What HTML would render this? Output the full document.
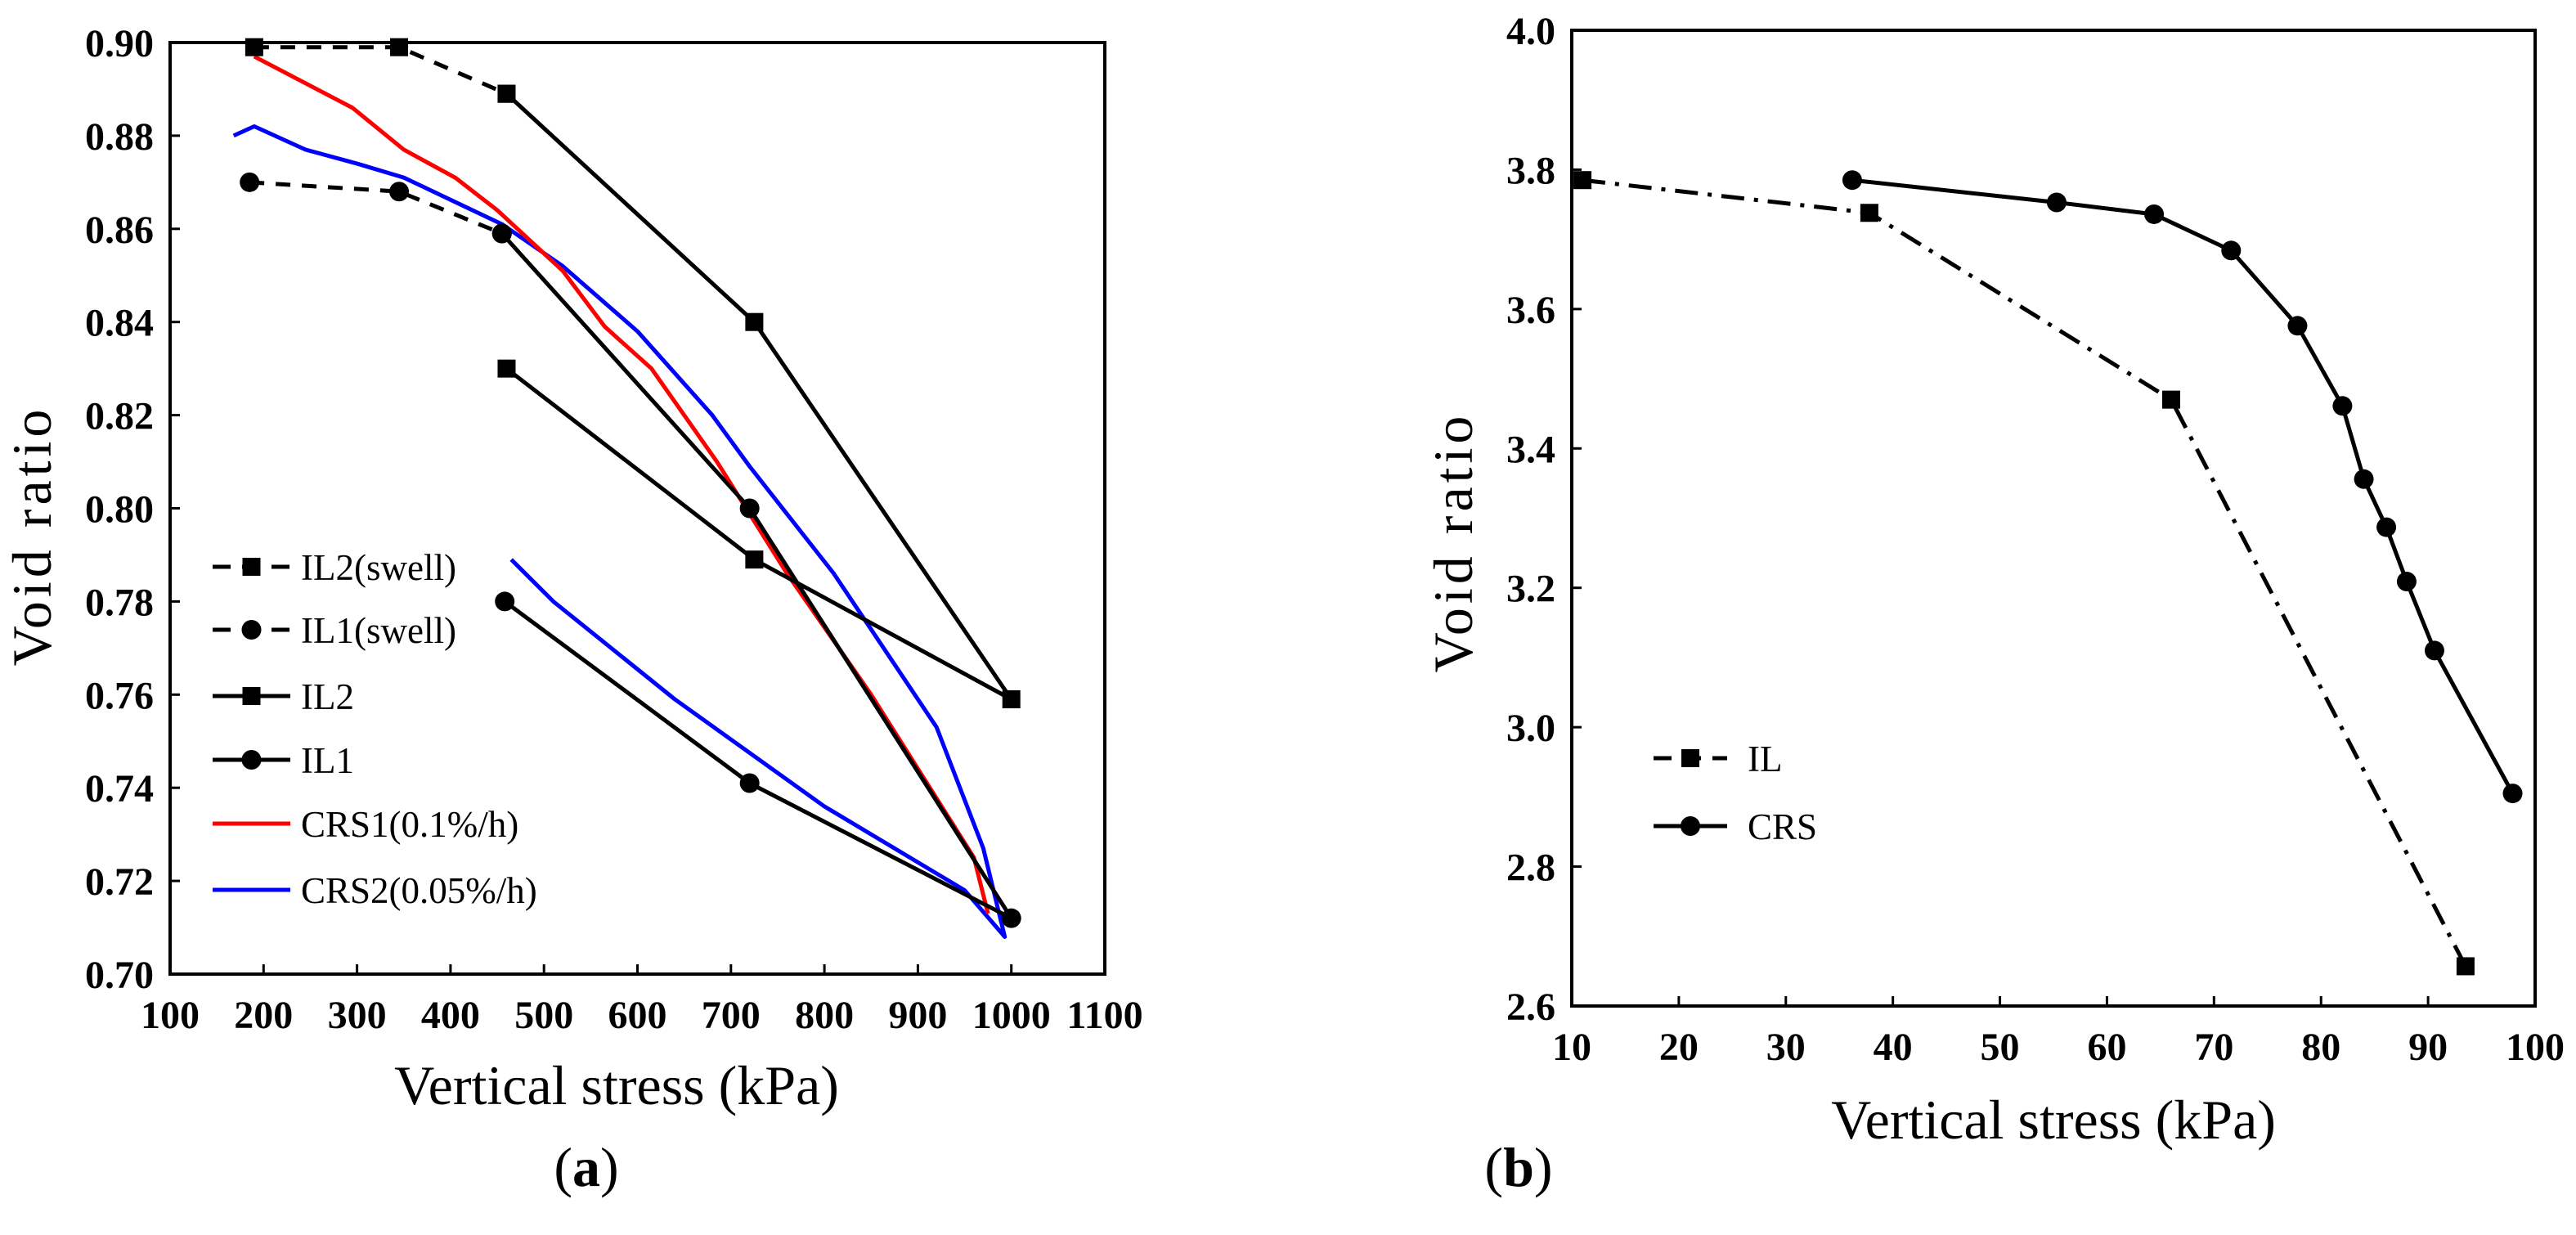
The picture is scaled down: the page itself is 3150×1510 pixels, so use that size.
<!DOCTYPE html>
<html><head><meta charset="utf-8"><style>
html,body{margin:0;padding:0;background:#fff;}
svg{display:block;font-family:"Liberation Serif",serif;}
.tk{font-size:48px;font-weight:bold;}
.ttl{font-size:68px;}
.yttl{font-size:68px;letter-spacing:5px;}
.lg{font-size:45px;}
</style></head><body>
<svg id="fig" width="3150" height="1510" viewBox="0 0 3150 1510"></svg>
<script>
// Panel (a) data
const aXTicks=[100,200,300,400,500,600,700,800,900,1000,1100];
const aYTicks=[0.70,0.72,0.74,0.76,0.78,0.80,0.82,0.84,0.86,0.88,0.90];
const il2SwellX=[190,345,460];
const il2SwellY=[0.899,0.899,0.889];
const il1SwellX=[185,345,455];
const il1SwellY=[0.870,0.868,0.859];
const il2X=[460,725,1000,725,460];
const il2Y=[0.889,0.840,0.759,0.789,0.830];
const il1X=[455,720,1000,720,458];
const il1Y=[0.859,0.800,0.712,0.741,0.780];
const crs1X=[190,295,350,405,450,520,565,615,685,760,850,960,975];
const crs1Y=[0.897,0.886,0.877,0.871,0.864,0.851,0.839,0.830,0.810,0.786,0.760,0.725,0.713];
const crs2X=[168,190,245,300,350,455,520,600,680,720,810,920,970,993,950,800,640,510,465];
const crs2Y=[0.880,0.882,0.877,0.874,0.871,0.861,0.852,0.838,0.820,0.809,0.786,0.753,0.727,0.708,0.718,0.736,0.759,0.780,0.789];
// Panel (b) data
const bXTicks=[10,20,30,40,50,60,70,80,90,100];
const bYTicks=[2.6,2.8,3.0,3.2,3.4,3.6,3.8,4.0];
const ilX=[11,37.8,66,93.5];
const ilY=[3.785,3.738,3.47,2.657];
const crsX=[36.2,55.3,64.4,71.6,77.8,82,84,86.1,88,90.6,97.9];
const crsY=[3.785,3.753,3.736,3.684,3.576,3.461,3.356,3.287,3.209,3.110,2.905];

const svg=document.getElementById('fig');
const NS='http://www.w3.org/2000/svg';
function mk(tag,attrs,parent){const e=document.createElementNS(NS,tag);for(const k in attrs)e.setAttribute(k,attrs[k]);(parent||svg).appendChild(e);return e;}
function lin(d0,d1,r0,r1){return v=>r0+(v-d0)/(d1-d0)*(r1-r0);}

function panel(o){
  const g=mk('g',{});
  
  
  const sx=lin(o.xd[0],o.xd[1],o.L,o.R), sy=lin(o.yd[0],o.yd[1],o.B,o.T);
  const fr=mk('rect',{x:o.L,y:o.T,width:o.R-o.L,height:o.B-o.T,fill:'none',stroke:'#000','stroke-width':4},g);
  
  
  o.xt.forEach(v=>{
    const x=sx(v);
    mk('line',{x1:x,x2:x,y1:o.B,y2:o.B-12,stroke:'#000','stroke-width':3},g);
    const t=mk('text',{x:x,y:o.B+66,'text-anchor':'middle',class:'tk'},g);
    t.textContent=o.xf(v);
    
    
  });
  o.yt.forEach(v=>{
    const y=sy(v);
    mk('line',{x1:o.L,x2:o.L+12,y1:y,y2:y,stroke:'#000','stroke-width':3},g);
    const t=mk('text',{x:o.L-20,y:y+17,'text-anchor':'end',class:'tk'},g);
    t.textContent=o.yf(v);
    
    
  });
  const xt=mk('text',{x:o.xtx,y:o.xty,'text-anchor':'middle',class:'ttl'},g);
  xt.textContent='Vertical stress (kPa)';
  
  
  const yt=mk('text',{x:0,y:0,'text-anchor':'middle',class:'yttl',transform:`translate(${o.ytx},${o.yty}) rotate(-90)`},g);
  yt.textContent='Void ratio';
  
  
  return {g,sx,sy};
}
function marker(g,type,x,y){
  let m;
  if(type==='sq') m=mk('rect',{x:x-11,y:y-11,width:22,height:22,fill:'#000'},g);
  else if(type==='ci') m=mk('circle',{cx:x,cy:y,r:12,fill:'#000'},g);
  if(m){}
}
function series(p,xs,ys,color,dash,mt,name){
  const pts=xs.map((v,i)=>p.sx(v)+','+p.sy(ys[i])).join(' ');
  const pl=mk('polyline',{points:pts,fill:'none',stroke:color,'stroke-width':5,'stroke-dasharray':dash||'none','stroke-linejoin':'round'},p.g);
  
  
  if(mt) xs.forEach((v,i)=>marker(p.g,mt,p.sx(v),p.sy(ys[i])));
}
function legend(g,x0,x1,tx,y,color,dash,mt,label){
  const l=mk('line',{x1:x0,x2:x1,y1:y,y2:y,stroke:color,'stroke-width':5,'stroke-dasharray':dash||'none'},g);
  
  
  if(mt) marker(g,mt,(x0+x1)/2,y);
  const t=mk('text',{x:tx,y:y+16,class:'lg'},g);
  t.textContent=label;
  
  
}

const pa=panel({name:'chart-a',L:208,R:1351,T:52,B:1191,xd:[100,1100],yd:[0.70,0.90],xt:aXTicks,yt:aYTicks,
  xf:v=>String(v),yf:v=>v.toFixed(2),xtx:754,xty:1350,ytx:62,yty:655});
series(pa,crs2X,crs2Y,'#0000ff',null,null,'crs2-line');
series(pa,crs1X,crs1Y,'#ff0000',null,null,'crs1-line');
series(pa,il2SwellX,il2SwellY,'#000','18,14','sq','il2-swell-line');
series(pa,il1SwellX,il1SwellY,'#000','18,14','ci','il1-swell-line');
series(pa,il2X,il2Y,'#000',null,'sq','il2-line');
series(pa,il1X,il1Y,'#000',null,'ci','il1-line');
legend(pa.g,260,355,368,693,'#000','22,14','sq','IL2(swell)');
legend(pa.g,260,355,368,770,'#000','22,14','ci','IL1(swell)');
legend(pa.g,260,355,368,851,'#000',null,'sq','IL2');
legend(pa.g,260,355,368,929,'#000',null,'ci','IL1');
legend(pa.g,260,355,368,1007,'#ff0000',null,null,'CRS1(0.1%/h)');
legend(pa.g,260,355,368,1088,'#0000ff',null,null,'CRS2(0.05%/h)');

const pb=panel({name:'chart-b',L:1922,R:3100,T:37,B:1230,xd:[10,100],yd:[2.6,4.0],xt:bXTicks,yt:bYTicks,
  xf:v=>String(v),yf:v=>v.toFixed(1),xtx:2511,xty:1392,ytx:1800,yty:663});
series(pb,ilX,ilY,'#000','28,12,5,12','sq','il-line');
series(pb,crsX,crsY,'#000',null,'ci','crs-line');
legend(pb.g,2022,2112,2137,927,'#000','22,14','sq','IL');
legend(pb.g,2022,2112,2137,1010,'#000',null,'ci','CRS');

const la=mk('text',{x:717,y:1450,'text-anchor':'middle',class:'ttl'});
la.innerHTML='(<tspan font-weight="bold">a</tspan>)';


const lb=mk('text',{x:1857,y:1450,'text-anchor':'middle',class:'ttl'});
lb.innerHTML='(<tspan font-weight="bold">b</tspan>)';


</script>
</body></html>
